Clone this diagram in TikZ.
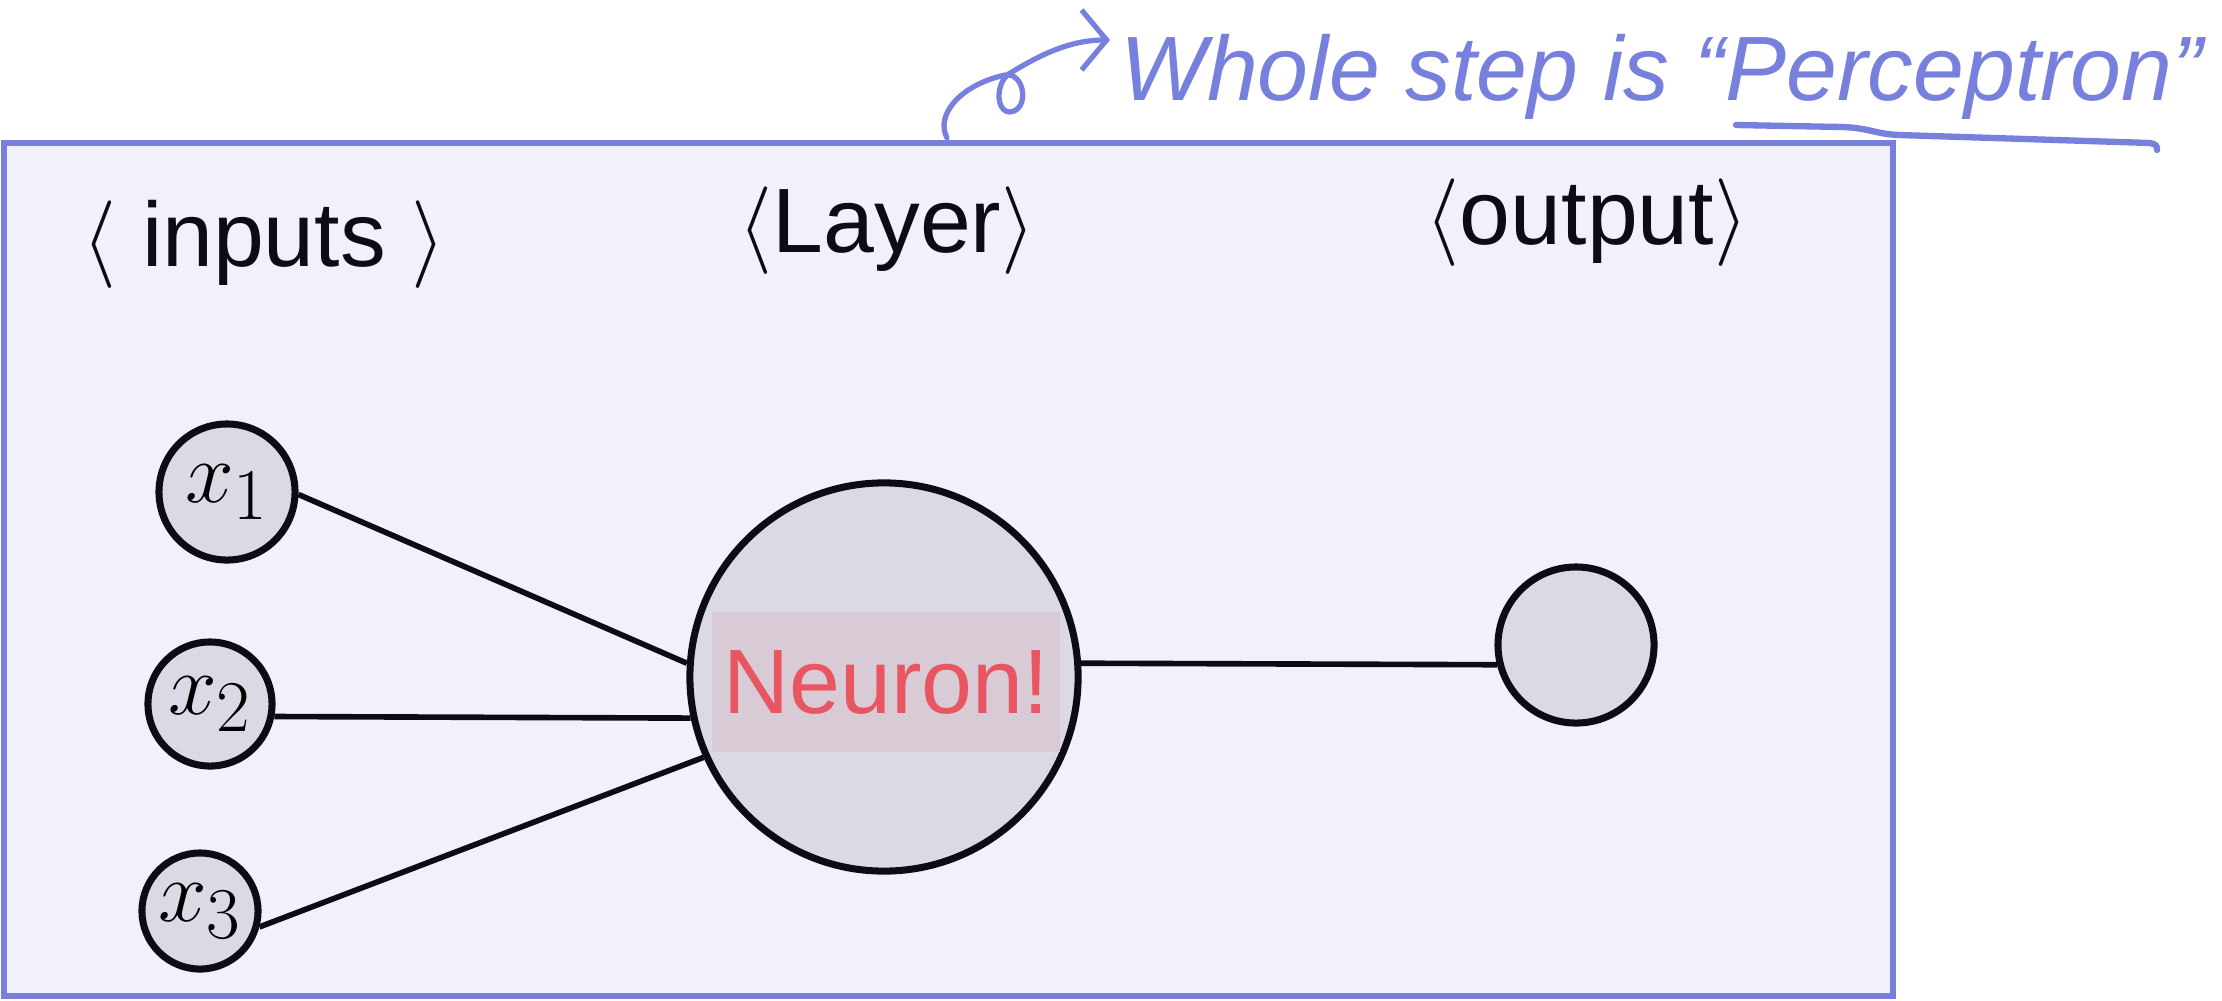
\documentclass[tikz,border=0pt]{standalone}
\usepackage{fontspec}
\setmainfont{Liberation Sans}
\usepackage{tikz}
\usetikzlibrary{arrows.meta}

\definecolor{framecol}{RGB}{120,128,221}
\definecolor{framefill}{RGB}{240,241,250}
\definecolor{nodefill}{RGB}{218,218,228}
\definecolor{inkcol}{RGB}{12,12,20}
\definecolor{neuroncol}{RGB}{232,86,98}
\definecolor{hlcol}{RGB}{217,203,214}

\begin{document}
\begin{tikzpicture}[x=0.01cm, y=-0.01cm,
	unit/.style={circle, draw=inkcol, fill=nodefill, line width=2pt, inner sep=0pt},
	link/.style={draw=inkcol, line width=1.6pt},
	heading/.style={anchor=base, text=inkcol, font=\fontsize{26}{30}\selectfont},
	every node/.style={font=\fontsize{30}{34}\selectfont}]
	\useasboundingbox (0,0) rectangle (2222,1000);
	\draw[framecol, fill=framefill, line width=1.9pt] (4,143) rectangle (1893,996);
	\node[heading] (lblInputs) at (264,266) {$\langle$ inputs $\rangle$};
	\node[heading] (lblLayer) at (887,252) {$\langle$Layer$\rangle$};
	\node[heading] (lblOutput) at (1587,244) {$\langle$output$\rangle$};
	\node[unit, minimum size=1.36cm] (in1) at (227,492) {$x_1$};
	\node[unit, minimum size=1.24cm] (in2) at (210,704) {$x_2$};
	\node[unit, minimum size=1.16cm] (in3) at (200,911) {$x_3$};
	\node[unit, minimum size=3.88cm] (neuron) at (884,677) {};
	\node[unit, minimum size=1.56cm] (out) at (1576,645) {};
	\node[fill=hlcol, text=neuroncol, minimum width=3.47cm, minimum height=1.4cm, inner sep=0pt, font=\fontsize{26}{30}\selectfont] (neuronLbl) at (886,682) {Neuron!};
	\draw[link] (in1.-2) -- (neuron.176);
	\draw[link] (in2.-11) -- (neuron.192);
	\draw[link] (in3.-15) -- (neuron.204);
	\draw[link] (neuron.4) -- (out.194);
	\node[anchor=base, text=framecol, font=\fontsize{26}{30}\selectfont\itshape] (note) at (1662,100) {Whole step is “Perceptron”};
	\coordinate (tail) at (947,138);
	\coordinate (tip) at (1110,40);
	\draw[framecol, line width=1.5pt, line cap=round, -{Straight Barb[length=2.5mm, width=6mm]}]
		(tail) .. controls (935,115) and (960,85) .. (1005,75)
		.. controls (1025,72) and (1030,110) .. (1010,112)
		.. controls (995,112) and (995,80) .. (1012,72)
		.. controls (1040,55) and (1070,40) .. (tip);
	\draw[framecol, line width=1.8pt, line cap=round] (1736,125) -- (1842,127) .. controls (1870,128) and (1875,134) .. (1899,135) -- (2150,143) .. controls (2156,144) and (2157,146) .. (2157,150);
\end{tikzpicture}
\end{document}
